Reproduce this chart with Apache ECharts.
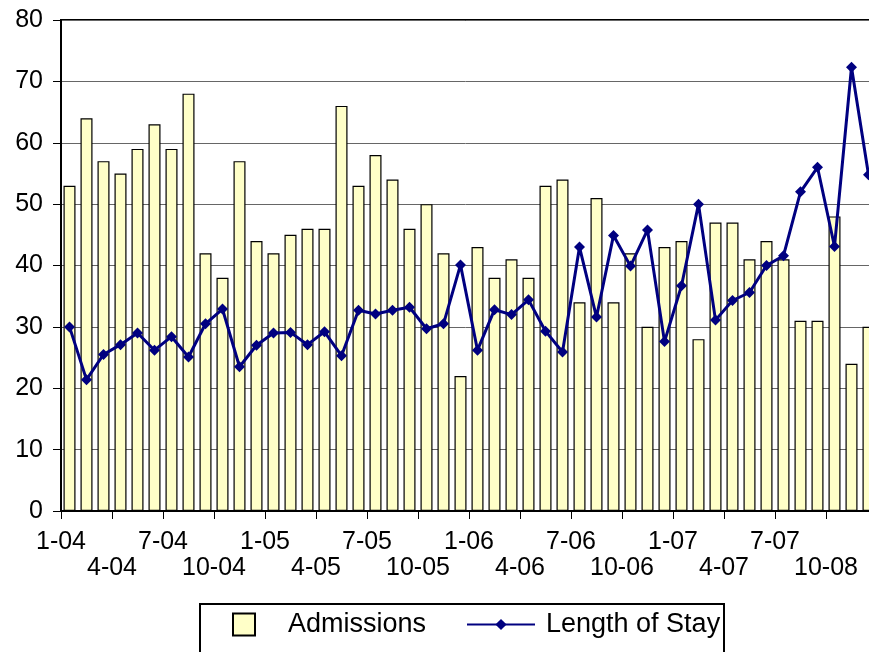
<!DOCTYPE html>
<html>
<head>
<meta charset="utf-8">
<script src="https://cdn.jsdelivr.net/npm/echarts@6/dist/echarts.min.js"></script>
<style>
html,body{margin:0;padding:0;background:#fff;}
#chart{width:869px;height:652px;}
</style>
</head>
<body>
<div id="chart"></div>
<script>
const months = ['1-04','2-04','3-04','4-04','5-04','6-04','7-04','8-04','9-04','10-04','11-04','12-04',
  '1-05','2-05','3-05','4-05','5-05','6-05','7-05','8-05','9-05','10-05','11-05','12-05',
  '1-06','2-06','3-06','4-06','5-06','6-06','7-06','8-06','9-06','10-06','11-06','12-06',
  '1-07','2-07','3-07','4-07','5-07','6-07','7-07','8-07','9-07','10-07','11-07','12-07'];
const admissions = [53,64,57,55,59,63,59,68,42,38,57,44,42,45,46,46,66,53,58,54,46,50,42,22,
  43,38,41,38,53,54,34,51,34,42,30,43,44,28,47,47,41,44,41,31,31,48,24,30];
const lengthOfStay = [30,21.4,25.5,27.1,29,26.2,28.4,25.1,30.5,32.9,23.5,27,29,29.1,27.1,29.2,25.3,32.7,32.1,32.7,33.2,29.7,30.5,40.1,
  26.2,32.8,32,34.4,29.3,25.9,43,31.6,44.9,39.9,45.8,27.6,36.7,50,31.1,34.3,35.6,40,41.6,52,56,43.1,72.3,54.8];
const tickLabels = ['1-04','4-04','7-04','10-04','1-05','4-05','7-05','10-05','1-06','4-06','7-06','10-06','1-07','4-07','7-07','10-08'];

const FONT = "'Liberation Sans', Arial, sans-serif";
const chart = echarts.init(document.getElementById('chart'));
chart.setOption({
  backgroundColor: '#fff',
  animation: false,
  grid: {left: 61, top: 20, width: 816, height: 491, outerBoundsMode: 'none', containLabel: false,
    show: true, borderColor: '#000', borderWidth: 2, backgroundColor: 'transparent'},
  xAxis: [
    {type: 'category', data: months, boundaryGap: true,
     axisLine: {show: true, lineStyle: {color: '#000', width: 2}},
     axisTick: {show: false}, axisLabel: {show: false}, splitLine: {show: false}},
    {type: 'value', min: 0, max: 48, interval: 3, position: 'bottom',
     axisLine: {show: false},
     axisTick: {show: true, inside: false, length: 8, lineStyle: {color: '#000', width: 1}},
     splitLine: {show: false},
     axisLabel: {show: true, margin: 18, fontSize: 25, lineHeight: 26, color: '#000', fontFamily: FONT,
       showMaxLabel: false,
       formatter: function (v) {
         const i = Math.round(v / 3);
         if (i >= tickLabels.length) return '';
         return (i % 2 === 1 ? '\n' : '') + tickLabels[i];
       }}}
  ],
  yAxis: {type: 'value', min: 0, max: 80, interval: 10,
    axisLine: {show: true, lineStyle: {color: '#000', width: 2}},
    axisTick: {show: true, inside: false, length: 8, lineStyle: {color: '#000', width: 1}},
    splitLine: {show: true, lineStyle: {color: '#666', width: 1}},
    axisLabel: {margin: 18, fontSize: 25, color: '#000', fontFamily: FONT}},
  legend: [
    {data: ['Admissions'], left: 232, top: 611, padding: 0, itemWidth: 22, itemHeight: 22, icon: 'rect',
     textStyle: {fontSize: 27, color: '#000', fontFamily: FONT, padding: [0, 0, 0, 28]}},
    {data: ['Length of Stay'], left: 466, top: 611, padding: 0, itemWidth: 68, itemHeight: 14,
     textStyle: {fontSize: 27, color: '#000', fontFamily: FONT, padding: [0, 0, 0, 6]}}
  ],
  graphic: [
    {type: 'rect', left: 199, top: 603, shape: {width: 524, height: 70}, silent: true, z: -1,
     style: {fill: '#fff', stroke: '#000', lineWidth: 2}}
  ],
  series: [
    {name: 'Admissions', type: 'bar', xAxisIndex: 0, data: admissions, barWidth: 12,
     itemStyle: {color: '#FFFFC8', borderColor: '#000', borderWidth: 1.2}},
    {name: 'Length of Stay', type: 'line', xAxisIndex: 0, data: lengthOfStay, z: 5,
     symbol: 'diamond', symbolSize: 11, color: '#000080',
     lineStyle: {color: '#000080', width: 3}, itemStyle: {color: '#000080'}}
  ]
});
</script>
</body>
</html>
